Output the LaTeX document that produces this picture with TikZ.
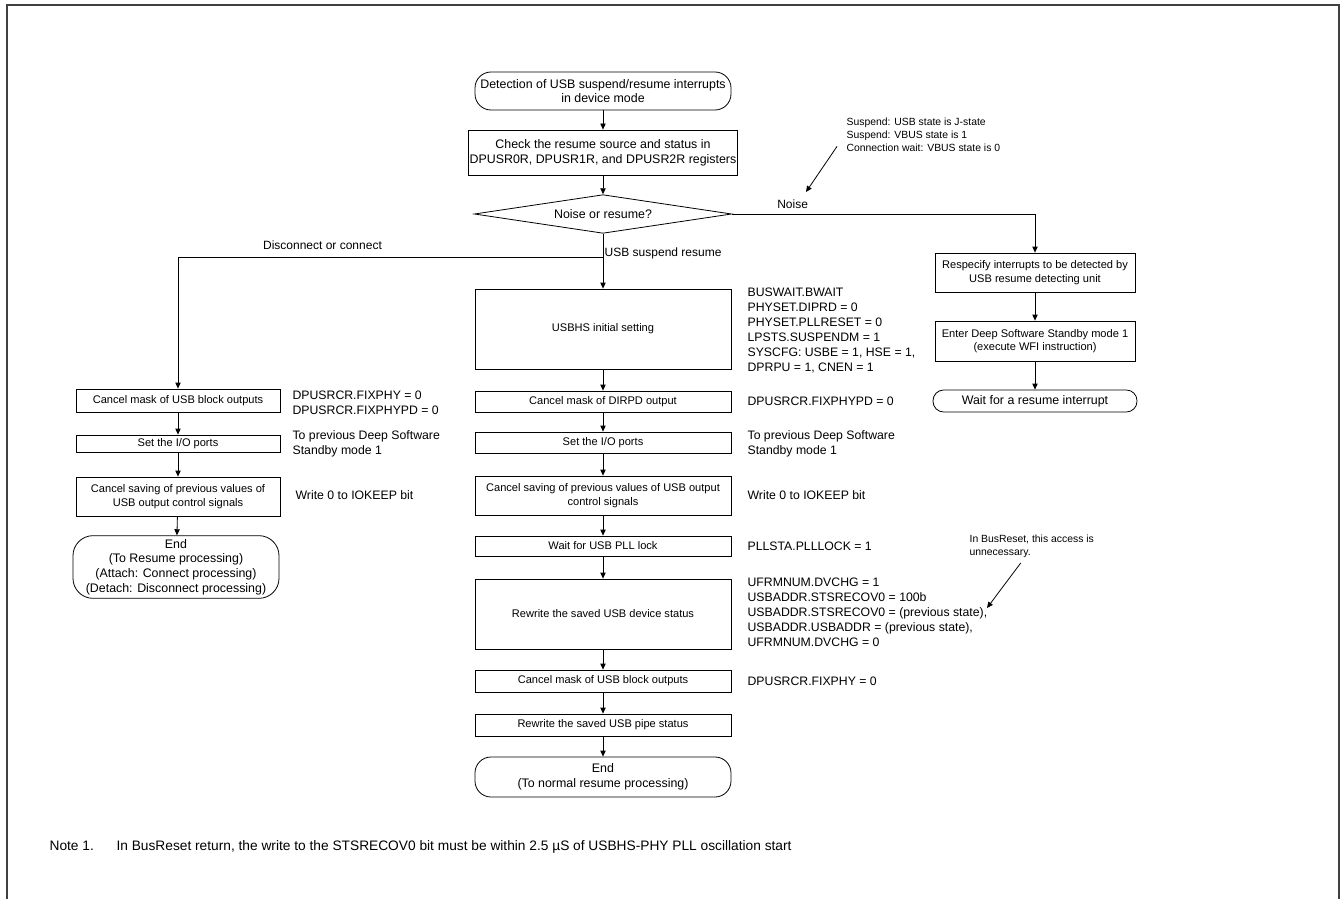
\documentclass[tikz,border=0pt]{standalone}
\usepackage{fontspec}
\setmainfont{Liberation Sans}
\usetikzlibrary{arrows.meta,shapes.geometric,positioning}

\begin{document}
\begin{tikzpicture}[
        x=0.75pt, y=-0.75pt,
        every node/.style = {
            align=center,
            inner sep=1pt,
            font=\fontsize{8.3}{10}\selectfont
        },
        box/.style = {draw, rectangle, line width=0.6pt, minimum width=192pt},
        lbox/.style = {draw, rectangle, line width=0.6pt, minimum width=153pt},
        rbox/.style = {draw, rectangle, line width=0.6pt, minimum width=150pt},
        term/.style = {draw, rectangle, line width=0.6pt},
        decision/.style = {draw, diamond, shape aspect=6.6, line width=0.6pt, minimum width=193pt, minimum height=29pt, inner sep=0pt},
        big/.style = {font=\fontsize{9.3}{11}\selectfont},
        note/.style = {anchor=west, align=left, font=\fontsize{9.2}{11.25}\selectfont},
        small/.style = {anchor=west, align=left, font=\fontsize{7.8}{9.75}\selectfont},
        branchlbl/.style = {font=\fontsize{9}{11}\selectfont},
        arrow/.style = {-{Triangle[length=4.5pt,width=4pt]}, line width=0.6pt}
    ]
    \useasboundingbox (0,0) rectangle (1343,899);
    \draw[line width=1.1pt, black!75] (7,899) |- (1339,5) -- (1339,899);

    % Main column: USB suspend resume
    \node[term, big, minimum width=192pt, minimum height=28.5pt, rounded corners=12pt] (start) at (603,91) {Detection of USB suspend/resume interrupts\\in device mode};
    \node[box, big, minimum height=33.75pt] (check) at (603,152.5) {Check the resume source and status in\\DPUSR0R, DPUSR1R, and DPUSR2R registers};
    \node[decision, big] (dec) at (603,214) {Noise or resume?};
    \node[box, minimum height=60pt] (init) at (603,329) {USBHS initial setting};
    \node[box, minimum height=15.75pt] (dirpd) at (603,401.5) {Cancel mask of DIRPD output};
    \node[box, minimum height=15.75pt] (ports) at (603,442.5) {Set the I/O ports};
    \node[box, minimum height=29.25pt] (keep) at (603,495.5) {Cancel saving of previous values of USB output\\control signals};
    \node[box, minimum height=15pt] (plllock) at (603,546) {Wait for USB PLL lock};
    \node[box, minimum height=52.5pt] (devstat) at (603,614) {Rewrite the saved USB device status};
    \node[box, minimum height=16.5pt] (unmask) at (603,681) {Cancel mask of USB block outputs};
    \node[box, minimum height=16.5pt] (pipestat) at (603,725) {Rewrite the saved USB pipe status};
    \node[term, big, minimum width=192pt, minimum height=30pt, rounded corners=12pt] (endmain) at (603,777) {End\\(To normal resume processing)};

    \draw[arrow] (start) -- (check);
    \draw[arrow] (check) -- (dec);
    \draw[arrow] (dec) -- (init) node[pos=0.35, right, branchlbl] {USB suspend resume};
    \draw[arrow] (init) -- (dirpd);
    \draw[arrow] (dirpd) -- (ports);
    \draw[arrow] (ports) -- (keep);
    \draw[arrow] (keep) -- (plllock);
    \draw[arrow] (plllock) -- (devstat);
    \draw[arrow] (devstat) -- (unmask);
    \draw[arrow] (unmask) -- (pipestat);
    \draw[arrow] (pipestat) -- (endmain);

    % register settings beside the main column
    \node[note] (initnote) at (746,330.5) {BUSWAIT.BWAIT\\PHYSET.DIPRD = 0\\PHYSET.PLLRESET = 0\\LPSTS.SUSPENDM = 1\\SYSCFG: USBE = 1, HSE = 1,\\DPRPU = 1, CNEN = 1};
    \node[note] (dirpdnote) at (746,401.5) {DPUSRCR.FIXPHYPD = 0};
    \node[note] (portsnote) at (746,443.5) {To previous Deep Software\\Standby mode 1};
    \node[note] (keepnote) at (746,495.5) {Write 0 to IOKEEP bit};
    \node[note] (pllnote) at (746,546) {PLLSTA.PLLLOCK = 1};
    \node[note] (devnote) at (746,612) {UFRMNUM.DVCHG = 1\\USBADDR.STSRECOV0 = 100b\\USBADDR.STSRECOV0 = (previous state),\\USBADDR.USBADDR = (previous state),\\UFRMNUM.DVCHG = 0};
    \node[note] (unmasknote) at (746,681) {DPUSRCR.FIXPHY = 0};

    \node[small] (resetnote) at (968,546) {In BusReset, this access is\\unnecessary.};
    \coordinate (resettip) at (987,608);
    \draw[arrow] ([shift={(-11,4)}]resetnote.south) -- (resettip);

    % Noise branch
    \node[rbox, minimum height=29.25pt] (respec) at (1035,272.5) {Respecify interrupts to be detected by\\USB resume detecting unit};
    \node[rbox, minimum height=30pt] (standby) at (1035,341) {Enter Deep Software Standby mode 1\\(execute WFI instruction)};
    \node[term, big, minimum width=153pt, minimum height=16.5pt, rounded corners=8pt] (waitres) at (1035,401) {Wait for a resume interrupt};

    \draw[arrow] (dec.east) -| (respec.north) node[pos=0.1, above=3pt, branchlbl] {Noise};
    \draw[arrow] (respec) -- (standby);
    \draw[arrow] (standby) -- (waitres);

    \node[small] (noisenote) at (845,135) {Suspend: USB state is J-state\\Suspend: VBUS state is 1\\Connection wait: VBUS state is 0};
    \coordinate (noisetip) at (806,192);
    \draw[arrow] ([shift={(-8,-7)}]noisenote.south west) -- (noisetip);

    % Disconnect / connect branch
    \coordinate (fork) at (603,257);
    \node[lbox, minimum height=17.25pt] (lunmask) at (178,400.5) {Cancel mask of USB block outputs};
    \node[lbox, minimum height=12.75pt] (lports) at (178,443.5) {Set the I/O ports};
    \node[lbox, minimum height=29.25pt] (lkeep) at (178,496.5) {Cancel saving of previous values of\\USB output control signals};
    \node[term, big, minimum width=154.5pt, minimum height=47pt, rounded corners=15pt] (endleft) at (176,567) {End\\(To Resume processing)\\(Attach: Connect processing)\\(Detach: Disconnect processing)};

    \draw[arrow] (fork) -| (lunmask.north) node[pos=0.33, above=4pt, branchlbl] {Disconnect or connect};
    \draw[arrow] (lunmask) -- (lports);
    \draw[arrow] (lports) -- (lkeep);
    \draw[arrow] (lkeep) -- (endleft);

    \node[note] (lunmasknote) at (291,403) {DPUSRCR.FIXPHY = 0\\DPUSRCR.FIXPHYPD = 0};
    \node[note] (lportsnote) at (291,443.5) {To previous Deep Software\\Standby mode 1};
    \node[note] (lkeepnote) at (294,495) {Write 0 to IOKEEP bit};

    % footnote
    \node[anchor=west, font=\fontsize{10.3}{12.5}\selectfont] (footnote) at (48,847) {Note 1.\hspace{17pt}In BusReset return, the write to the STSRECOV0 bit must be within 2.5 µS of USBHS-PHY PLL oscillation start};
\end{tikzpicture}
\end{document}
